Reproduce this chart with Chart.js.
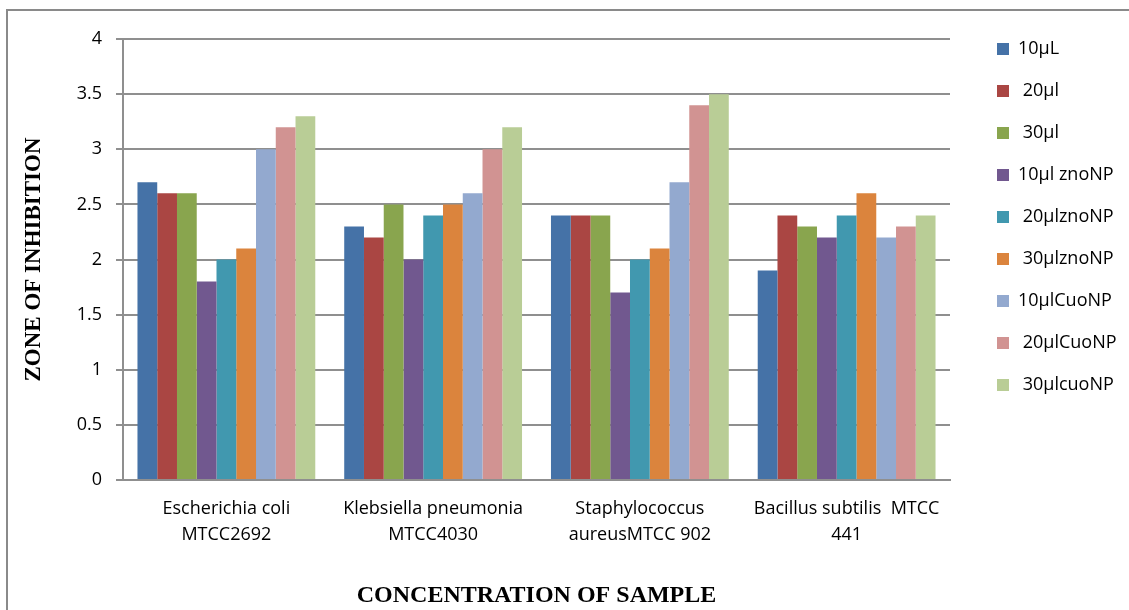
<!DOCTYPE html>
<html>
<head>
<meta charset="utf-8">
<script src="https://cdn.jsdelivr.net/npm/chart.js@4.4.1/dist/chart.umd.min.js"></script>
<style>
  html, body { margin: 0; padding: 0; background: #fff; overflow: hidden; }
  #frame { position: absolute; left: 6px; top: 9px; width: 1300px; height: 800px;
           border-left: 2px solid #8a8a8a; border-top: 2px solid #8a8a8a; }
  #wrap { position: absolute; left: 0; top: 0; width: 1129px; height: 610px; }
</style>
</head>
<body>
<div id="frame"></div>
<div id="wrap"><canvas id="chart" width="1129" height="610"></canvas></div>
<script>
// Bacterial strains on the category axis (two-line labels)
const categories = [
  ["Escherichia coli", "MTCC2692"],
  ["Klebsiella pneumonia", "MTCC4030"],
  ["Staphylococcus", "aureusMTCC 902"],
  ["Bacillus subtilis  MTCC", "441"]
];

// Sample concentrations / nanoparticle treatments
const seriesNames = ["10\u00b5L", " 20\u00b5l", " 30\u00b5l", "10\u00b5l znoNP", " 20\u00b5lznoNP",
                     " 30\u00b5lznoNP", "10\u00b5lCuoNP", " 20\u00b5lCuoNP", " 30\u00b5lcuoNP"];

// Zone of inhibition per strain, one array per treatment
const s10ul       = [2.7, 2.3, 2.4, 1.9];
const s20ul       = [2.6, 2.2, 2.4, 2.4];
const s30ul       = [2.6, 2.5, 2.4, 2.3];
const s10ulZnO    = [1.8, 2.0, 1.7, 2.2];
const s20ulZnO    = [2.0, 2.4, 2.0, 2.4];
const s30ulZnO    = [2.1, 2.5, 2.1, 2.6];
const s10ulCuO    = [3.0, 2.6, 2.7, 2.2];
const s20ulCuO    = [3.2, 3.0, 3.4, 2.3];
const s30ulCuO    = [3.3, 3.2, 3.5, 2.4];

const seriesValues = [s10ul, s20ul, s30ul, s10ulZnO, s20ulZnO, s30ulZnO, s10ulCuO, s20ulCuO, s30ulCuO];

// Y axis range / step
const yMin = 0, yMax = 4, yStep = 0.5;

const palette = ["#4572A7", "#AA4643", "#89A54E", "#71588F", "#4198AF",
                 "#DB843D", "#93A9CF", "#D19392", "#B9CD96"];

const gridGray = "#8f8f8f";
const labelFont = "'Open Sans', sans-serif";
const titleFont = "'Liberation Serif', 'Times New Roman', serif";

// Legend column: fixed width, nudged right/up inside its box
const LEGEND_WIDTH = 179, LEGEND_DX = 23, LEGEND_DY = -23;
const legendPlacement = {
  id: "legendPlacement",
  beforeLayout(chart) {
    const lg = chart.legend;
    if (lg && !lg._fixedWidth) {
      const origFit = lg.fit.bind(lg);
      lg.fit = function () { origFit(); this.width = LEGEND_WIDTH; this.right = this.left + LEGEND_WIDTH; };
      lg._fixedWidth = true;
    }
  },
  afterLayout(chart) {
    const lg = chart.legend;
    if (!lg) return;
    lg.left += LEGEND_DX; lg.right += LEGEND_DX;
    lg.top += LEGEND_DY; lg.bottom += LEGEND_DY;
  }
};

const datasets = seriesNames.map((name, i) => ({
  label: name,
  data: seriesValues[i],
  backgroundColor: palette[i],
  borderWidth: 0,
  categoryPercentage: 0.86,
  barPercentage: 1.0
}));

new Chart(document.getElementById("chart"), {
  type: "bar",
  data: { labels: categories, datasets },
  plugins: [legendPlacement],
  options: {
    responsive: false,
    animation: false,
    layout: { padding: { top: 39, left: 0, right: 0, bottom: 0 } },
    plugins: {
      tooltip: { enabled: false },
      legend: {
        position: "right",
        align: "start",
        labels: {
          boxWidth: 12,
          boxHeight: 12,
          padding: 24,
          color: "#000",
          font: { family: labelFont, size: 18 }
        }
      }
    },
    scales: {
      x: {
        grid: { display: false, drawTicks: false },
        border: { display: true, color: gridGray, width: 2 },
        ticks: {
          color: "#000",
          padding: 16,
          maxRotation: 0,
          autoSkip: false,
          font: { family: labelFont, size: 18, lineHeight: 1.45 }
        },
        title: {
          display: true,
          text: "CONCENTRATION OF SAMPLE",
          color: "#000",
          font: { family: titleFont, size: 24, weight: "bold" },
          padding: { top: 0, bottom: 0 }
        },
        afterFit: (s) => { s.height = 130; }
      },
      y: {
        min: yMin,
        max: yMax,
        ticks: {
          stepSize: yStep,
          color: "#000",
          padding: 14,
          font: { family: labelFont, size: 18 },
          callback: (v) => String(v)
        },
        grid: { color: gridGray, lineWidth: 2, tickLength: 7, drawTicks: true },
        border: { display: true, color: gridGray, width: 2 },
        title: {
          display: true,
          text: "ZONE OF INHIBITION",
          color: "#000",
          font: { family: titleFont, size: 23, weight: "bold" },
          padding: { top: 20, bottom: 0 }
        },
        afterFit: (s) => { s.width = 123; }
      }
    }
  }
});
</script>
</body>
</html>
